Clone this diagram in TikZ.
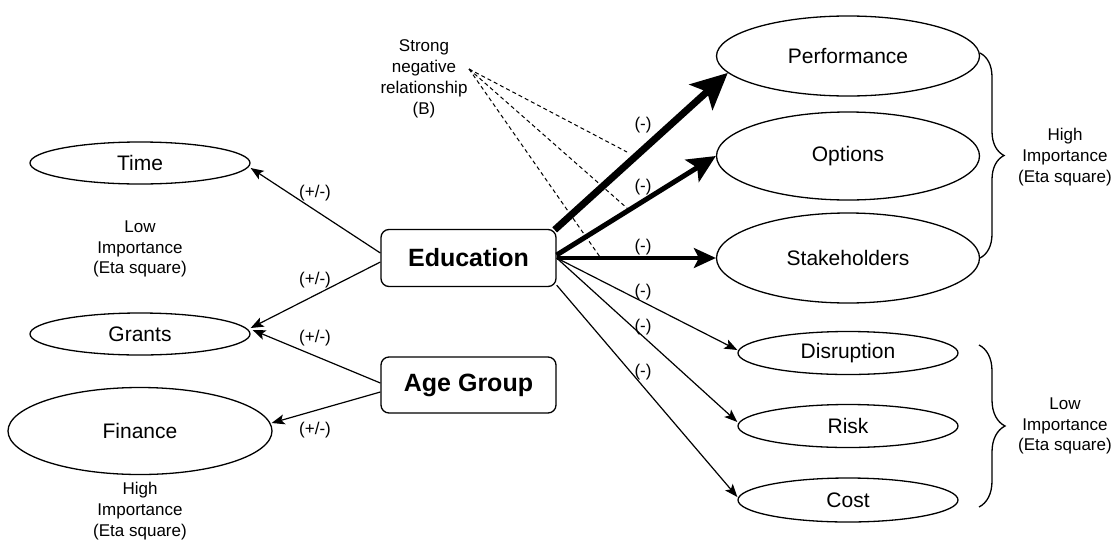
\documentclass[tikz,border=0pt]{standalone}
\usepackage{fontspec}
\setmainfont{Liberation Sans}
\usetikzlibrary{arrows.meta,shapes.geometric,calc,decorations.pathreplacing}
\begin{document}
\begin{tikzpicture}[x=1pt,y=-1pt,
  oval/.style={draw,ellipse,line width=1.3pt,inner sep=0pt,font=\fontsize{21}{25}\selectfont},
  box/.style={draw,rounded corners=8pt,line width=1.3pt,minimum width=175pt,minimum height=57pt,inner sep=0pt,font=\bfseries\fontsize{25}{30}\selectfont},
  lbl/.style={font=\fontsize{17}{21}\selectfont,inner sep=0pt},
  notetext/.style={lbl,align=center,font=\fontsize{17}{20.8}\selectfont},
  thinarr/.style={line width=1.2pt,-{Stealth[length=13pt,width=10pt,inset=3pt]}},
  arrA/.style={line width=7pt,-{Stealth[length=36pt,width=34pt,inset=8pt]}},
  arrB/.style={line width=5pt,-{Stealth[length=28pt,width=26pt,inset=6pt]}},
  arrC/.style={line width=3.5pt,-{Stealth[length=22pt,width=20pt,inset=5pt]}},
  dashline/.style={line width=1pt,dash pattern=on 4pt off 3pt},
  bracestyle/.style={line width=1.3pt,decorate,decoration={brace,amplitude=24pt,aspect=0.5}}
]
\useasboundingbox (0,0) rectangle (1113,544);

% left ellipses
\node[oval,minimum width=220pt,minimum height=42pt] (time) at (140,163) {Time};
\node[oval,minimum width=220pt,minimum height=42pt] (grants) at (140,334) {Grants};
\node[oval,minimum width=264pt,minimum height=87pt] (finance) at (140,431) {Finance};

% boxes
\node[box] (edu) at (468.5,258) {Education};
\node[box,minimum height=56pt] (age) at (468.5,385) {Age Group};

% right ellipses
\node[oval,minimum width=263pt,minimum height=80pt] (perf) at (848,56) {Performance};
\node[oval,minimum width=263pt,minimum height=88pt] (opt) at (848,156) {Options};
\node[oval,minimum width=263pt,minimum height=90pt] (stake) at (848,258) {Stakeholders};
\node[oval,minimum width=220pt,minimum height=43pt] (disr) at (848,353) {Disruption};
\node[oval,minimum width=220pt,minimum height=43pt] (risk) at (848,426) {Risk};
\node[oval,minimum width=220pt,minimum height=44pt] (cost) at (848,500) {Cost};

% texts
\node[notetext] (lowl) at (140,249) {Low\\Importance\\(Eta square)};
\node[notetext] (highl) at (140,511) {High\\Importance\\(Eta square)};
\node[notetext] (highr) at (1065,157) {High\\Importance\\(Eta square)};
\node[notetext] (lowr) at (1065,426) {Low\\Importance\\(Eta square)};
\node[notetext] (strong) at (424,79) {Strong\\negative\\relationship\\(B)};

% dashed lines
\coordinate (bsrc) at (469,69);
\coordinate (bA) at (627,152);
\coordinate (bB) at (628,209);
\coordinate (bC) at (600,257);
\draw[dashline] (bsrc) -- (bA);
\draw[dashline] (bsrc) -- (bB);
\draw[dashline] (bsrc) -- (bC);

% left arrows
\draw[thinarr] ($(edu.west)+(0,-5)$) -- ($(time.east)+(0,5)$);
\draw[thinarr] ($(edu.west)+(0,4)$) -- ($(grants.east)+(0,-6)$);
\draw[thinarr] ($(age.west)+(0,-2)$) -- ($(grants.east)+(2,-4)$);
\draw[thinarr] ($(age.west)+(0,7)$) -- ($(finance.east)+(-1,-8)$);

% right arrows
\draw[arrA] ($(edu.north east)+(-2,1)$) -- (perf.188);
\draw[arrB] ($(edu.east)+(0,-3)$) -- (opt.west);
\draw[arrC] (edu.east) -- (stake.west);
\draw[thinarr] (edu.east) -- ($(disr.west)+(0,-3)$);
\draw[thinarr] (edu.east) -- ($(risk.west)+(0,-4)$);
\draw[thinarr] ($(edu.south east)+(0,-2)$) -- ($(cost.west)+(0,-3)$);

% labels
\node[lbl] (l1) at (315,193) {(+/-)};
\node[lbl] (l2) at (315,280) {(+/-)};
\node[lbl] (l3) at (315,338) {(+/-)};
\node[lbl] (l4) at (315,430) {(+/-)};
\node[lbl] (m1) at (643,125) {(-)};
\node[lbl] (m2) at (643,187) {(-)};
\node[lbl] (m3) at (643,247) {(-)};
\node[lbl] (m4) at (643,292) {(-)};
\node[lbl] (m5) at (643,327) {(-)};
\node[lbl] (m6) at (643,372) {(-)};

% braces
\coordinate (b1t) at (980,53);
\coordinate (b1b) at (980,258);
\coordinate (b2t) at (979,345);
\coordinate (b2b) at (979,507);
\draw[bracestyle] (b1t) -- (b1b);
\draw[bracestyle,decoration={brace,amplitude=26pt,aspect=0.5}] (b2t) -- (b2b);
\end{tikzpicture}
\end{document}
